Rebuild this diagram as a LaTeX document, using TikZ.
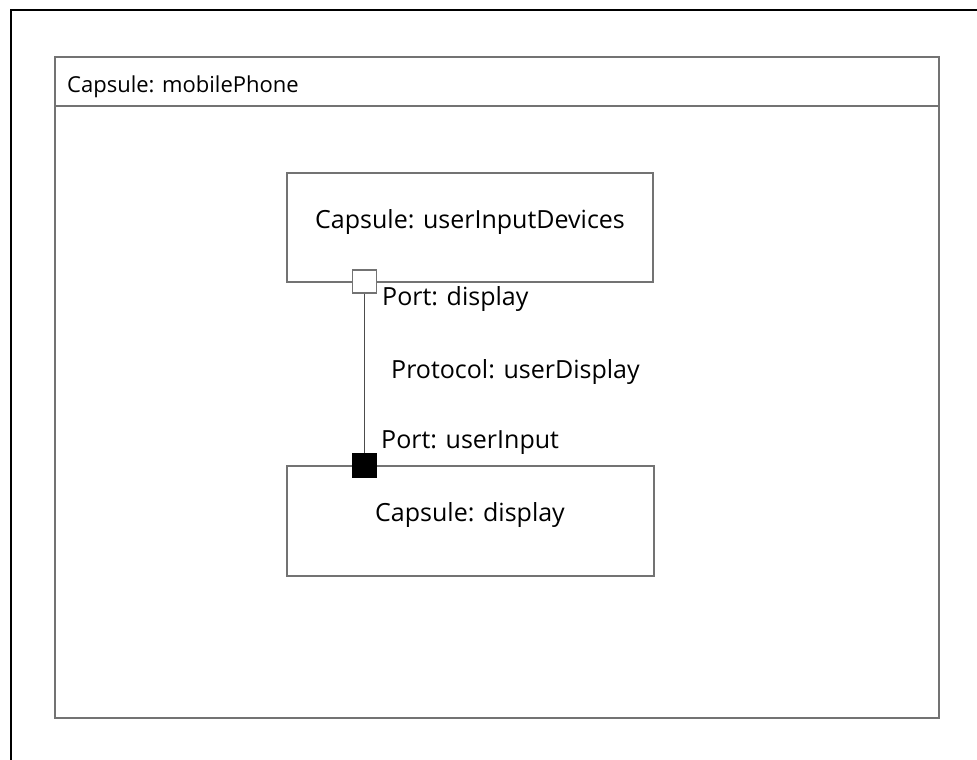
\documentclass[tikz,border=0pt]{standalone}
\usepackage{fontspec}
\setmainfont{Open Sans}
\begin{document}
\begin{tikzpicture}[x=1pt,y=-1pt,
  frame/.style={draw=black!55, line width=1.3pt},
  capsule/.style={draw=black!55, line width=1.3pt, fill=white},
  lbl/.style={font=\fontsize{25}{28}\selectfont, text=black, inner sep=0pt},
  ttl/.style={font=\fontsize{22}{26}\selectfont, text=black, inner sep=0pt},
  portbox/.style={draw=black!55, line width=1.1pt, minimum width=24pt, minimum height=23pt, inner sep=0pt},
  link/.style={draw=black!70, line width=1pt}]
  \useasboundingbox (0,0) rectangle (977,760);
  \fill[white] (0,0) rectangle (977,760);
  % outer frame (continues past the right and bottom edges)
  \draw[black, line width=2pt] (11,770) -- (11,10) -- (990,10);
  % mobilePhone capsule with its title bar
  \draw[frame] (55,57) rectangle (939,718);
  \draw[frame] (55,106) -- (939,106);
  \node[ttl, anchor=west] (title) at (67,87) {Capsule: mobilePhone};
  % inner capsules
  \draw[capsule] (287,173) rectangle (653,282);
  \node[lbl] (uid) at (470,222) {Capsule: userInputDevices};
  \draw[capsule] (287,466) rectangle (654,576);
  \node[lbl] (disp) at (470,515) {Capsule: display};
  % ports
  \node[portbox, fill=white] (p1) at (364.5,281.5) {};
  \node[portbox, fill=black, draw=black] (p2) at (364.5,465.5) {};
  % connector
  \draw[link] (p1.south) -- (p2.north);
  % labels
  \node[lbl, anchor=west] (p1l) at (382,299) {Port: display};
  \node[lbl, anchor=west] (prl) at (391,372) {Protocol: userDisplay};
  \node[lbl, anchor=west] (p2l) at (381,443) {Port: userInput};
\end{tikzpicture}
\end{document}
